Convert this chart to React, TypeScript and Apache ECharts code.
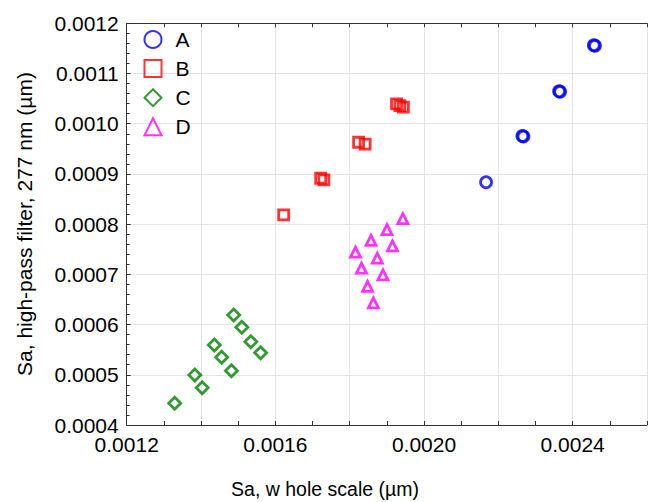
import React, { useEffect, useRef } from "react";
import * as echarts from "echarts";

const seriesNames = ["A", "B", "C", "D"];
const colors = ["#0000ff", "#ff0000", "#008000", "#ff00ff"];
const symbols = ["circle", "rect", "diamond", "triangle"];

const dataA: number[][] = [
  [0.0024569, 0.0011564],
  [0.0024600, 0.0011552],
  [0.0023634, 0.0010647],
  [0.0023662, 0.0010635],
  [0.0022647, 0.0009757],
  [0.0022675, 0.0009745],
  [0.0021670, 0.0008835],
];
const dataB: number[][] = [
  [0.0016224, 0.0008183],
  [0.0017219, 0.0008914],
  [0.0017305, 0.0008880],
  [0.0018240, 0.0009631],
  [0.0018415, 0.0009592],
  [0.0019261, 0.0010394],
  [0.0019350, 0.0010360],
  [0.0019444, 0.0010329],
];
const dataC: number[][] = [
  [0.0013291, 0.0004432],
  [0.0013833, 0.0004996],
  [0.0014032, 0.0004743],
  [0.0014357, 0.0005594],
  [0.0014556, 0.0005349],
  [0.0014818, 0.0005082],
  [0.0014880, 0.0006191],
  [0.0015098, 0.0005946],
  [0.0015341, 0.0005659],
  [0.0015603, 0.0005440],
];
const dataD: number[][] = [
  [0.0019431, 0.0008110],
  [0.0019004, 0.0007890],
  [0.0018575, 0.0007679],
  [0.0019151, 0.0007566],
  [0.0018156, 0.0007442],
  [0.0018743, 0.0007323],
  [0.0018318, 0.0007124],
  [0.0018895, 0.0006988],
  [0.0018481, 0.0006759],
  [0.0018638, 0.0006434],
];
const allData = [dataA, dataB, dataC, dataD];
const symbolSizes = [11, 10, 12, 10];

const xTitle = "Sa, w hole scale (µm)";
const yTitle = "Sa, high-pass filter, 277 nm (µm)";

const FONT = "'Liberation Sans', Arial, sans-serif";

export default function App() {
  const ref = useRef<HTMLDivElement>(null);
  useEffect(() => {
    if (!ref.current) return;
    const chart = echarts.init(ref.current, undefined, { renderer: "svg" });
    const axisLineColor = "#333333";
    const gridColor = "#e4e4e4";
    chart.setOption({
      animation: false,
      backgroundColor: "#ffffff",
      textStyle: { fontFamily: FONT },
      grid: { left: 126.7, top: 23.3, right: -11, bottom: 77, containLabel: false },
      legend: {
        orient: "vertical",
        left: 143.5,
        top: 29,
        padding: 0,
        itemWidth: 17,
        itemHeight: 17,
        itemGap: 8.1,
        itemStyle: { borderWidth: 2 },
        textStyle: { fontSize: 21, color: "#000", lineHeight: 17, padding: [0, 0, 0, 9], fontFamily: FONT },
        data: seriesNames,
      },
      xAxis: [
        {
          type: "value",
          min: 0.0012,
          max: 0.0026,
          interval: 0.0002,
          position: "bottom",
          axisLine: { show: true, lineStyle: { color: axisLineColor, width: 1 } },
          axisTick: { show: true, inside: true, length: 4, lineStyle: { color: axisLineColor } },
          minorTick: { show: true, splitNumber: 2, length: 4, lineStyle: { color: axisLineColor } },
          splitLine: { show: true, lineStyle: { color: gridColor, width: 1 } },
          axisLabel: {
            fontSize: 21,
            color: "#000",
            margin: 9,
            fontFamily: FONT,
            formatter: (v: number) => {
              const k = Math.round(v * 10000);
              return k % 4 === 0 ? v.toFixed(4) : "";
            },
          },
        },
        {
          type: "value",
          min: 0.0012,
          max: 0.0026,
          interval: 0.0002,
          position: "top",
          axisLine: { show: true, lineStyle: { color: axisLineColor, width: 1 } },
          axisTick: { show: true, inside: true, length: 4, lineStyle: { color: axisLineColor } },
          minorTick: { show: true, splitNumber: 2, length: 4, lineStyle: { color: axisLineColor } },
          splitLine: { show: false },
          axisLabel: { show: false },
        },
      ],
      yAxis: {
        type: "value",
        min: 0.0004,
        max: 0.0012,
        interval: 0.0001,
        axisLine: { show: true, lineStyle: { color: axisLineColor, width: 1 } },
        axisTick: { show: true, inside: true, length: 4, lineStyle: { color: axisLineColor } },
        minorTick: { show: true, splitNumber: 5, length: 3, lineStyle: { color: axisLineColor } },
        splitLine: { show: true, lineStyle: { color: gridColor, width: 1 } },
        axisLabel: {
          fontSize: 21,
          color: "#000",
          margin: 8,
          fontFamily: FONT,
          formatter: (v: number) => v.toFixed(4),
        },
      },
      graphic: [
        {
          type: "text",
          x: 325,
          y: 489,
          style: {
            text: xTitle,
            fontSize: 19.5,
            fontFamily: FONT,
            fill: "#000",
            align: "center",
            verticalAlign: "middle",
          },
        },
        {
          type: "text",
          x: 24,
          y: 224,
          rotation: Math.PI / 2,
          style: {
            text: yTitle,
            fontSize: 21,
            fontFamily: FONT,
            fill: "#000",
            align: "center",
            verticalAlign: "middle",
          },
        },
      ],
      series: seriesNames.map((name, i) => ({
        name,
        type: "scatter",
        xAxisIndex: 0,
        symbol: symbols[i],
        symbolSize: symbolSizes[i],
        itemStyle: { color: "rgba(255,255,255,0)", borderColor: colors[i], borderWidth: 2.8 },
        emphasis: { disabled: true },
        data: allData[i],
      })),
    });
    return () => chart.dispose();
  }, []);
  return (
    <div
      ref={ref}
      style={{ position: "absolute", left: 0, top: 0, width: 650, height: 502 }}
    />
  );
}
